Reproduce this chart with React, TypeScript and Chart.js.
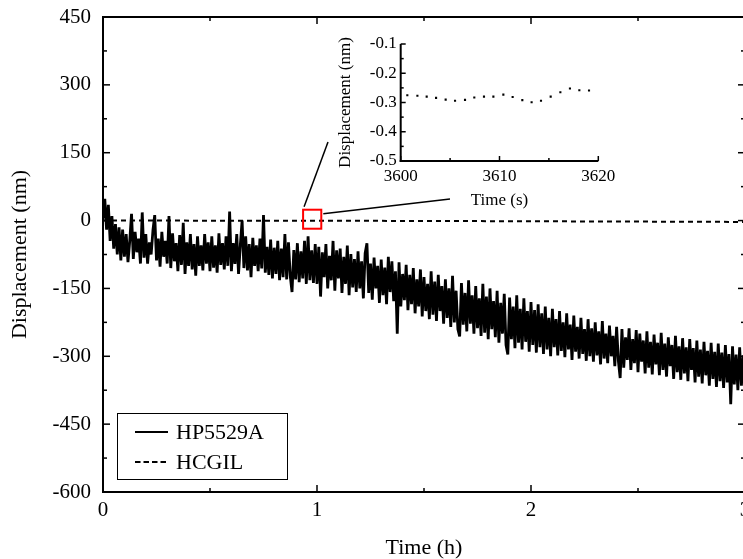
import React, { useEffect, useRef } from 'react';
import { Chart, registerables } from 'chart.js';
Chart.register(...registerables);

const SERIF = "'Liberation Serif', 'Times New Roman', Times, serif";

// HP5529A displacement (nm), one sample every 1/120 h
const hoursPerSample = 1 / 120;
const hpHour1 = [
  5, 48, -20, 35, -45, 10, -62, -8, -75, -15, -88, -20,
  -80, -30, -92, -45, 15, -85, -25, -70, -40, -95, 18, -82,
  -30, -95, -48, -75, -22, 12, -88, -40, -102, -25, -80, -45,
  -95, 10, -105, -28, -90, -50, -112, -32, -98, -5, -118, -48,
  -100, -30, -108, -52, -122, -35, -100, -55, -110, -30, -95, -48,
  -112, -35, -104, -55, -115, -28, -98, -50, -108, -35, -100, 20,
  -112, -50, -96, -30, -118, -55, 0, -105, -35, -110, -52, -125,
  -38, -100, -55, -112, -40, -106, 12, -115, -58, -120, -42, -128,
  -60, -118, -45, -132, -62, -125, -30, -130, -48, -122, -158, -65,
  -130, -50, -136, -68, -128, -45, -140, -35, -132, -66, -138, -52,
];
const hpHour2 = [
  -140, -58, -168, -70, -125, -52, -150, -78, -132, -45, -155, -66,
  -128, -62, -160, -80, -140, -55, -165, -74, -148, -85, -158, -68,
  -150, -90, -172, -72, -50, -160, -95, -175, -82, -150, -100, -182,
  -86, -165, -104, -185, -80, -158, -90, -178, -112, -250, -92, -190,
  -118, -176, -98, -198, -120, -185, -105, -205, -130, -190, -108, -212,
  -125, -200, -140, -218, -112, -208, -135, -222, -120, -200, -145, -228,
  -130, -215, -150, -235, -122, -225, -155, -240, -256, -138, -230, -160,
  -245, -132, -228, -165, -250, -145, -238, -172, -255, -140, -248, -168,
  -262, -150, -240, -178, -258, -155, -270, -182, -250, -162, -275, -296,
  -170, -262, -190, -282, -165, -270, -195, -285, -172, -268, -200, -290,
];
const hpHour3 = [
  -180, -275, -198, -292, -185, -280, -205, -295, -190, -285, -215, -300,
  -195, -280, -218, -298, -200, -288, -225, -302, -205, -285, -230, -308,
  -210, -290, -235, -305, -215, -295, -240, -310, -218, -300, -238, -312,
  -225, -298, -245, -318, -222, -305, -250, -315, -232, -300, -255, -322,
  -235, -310, -348, -240, -325, -258, -308, -238, -330, -262, -315, -242,
  -335, -250, -312, -265, -338, -245, -325, -268, -340, -252, -318, -270,
  -342, -248, -330, -272, -345, -258, -322, -275, -350, -255, -335, -278,
  -352, -260, -338, -280, -355, -262, -330, -282, -358, -265, -345, -285,
  -360, -268, -342, -288, -365, -270, -350, -290, -368, -272, -355, -292,
  -370, -275, -358, -295, -406, -278, -362, -296, -375, -280, -365, -298,
];
const hpEnd = [-340];

// HCGIL displacement (nm)
const hcgilTime = [0, 1, 2, 3];
const hcgilValues = [0, -0.3, -1.5, -3];

const mainXTicks = [0, 1, 2, 3];
const mainYTicks = [-600, -450, -300, -150, 0, 150, 300, 450];
const seriesNames = ['HP5529A', 'HCGIL'];

// zoom window around t = 1 h (h, nm)
const zoomWindow = { x0: 0.935, x1: 1.02, y0: -18, y1: 24 };

// inset: HCGIL detail
const insetTime = [3600.67, 3601.69, 3602.63, 3603.58, 3604.55, 3605.5, 3606.51, 3607.45, 3608.43, 3609.38,
  3610.39, 3611.33, 3612.31, 3613.25, 3614.2, 3615.18, 3616.16, 3617.13, 3618.08, 3619.06];
const insetValues = [-0.275, -0.277, -0.28, -0.284, -0.29, -0.294, -0.291, -0.283, -0.28, -0.28,
  -0.273, -0.281, -0.292, -0.299, -0.294, -0.28, -0.265, -0.252, -0.258, -0.259];
const insetXTicks = [3600, 3610, 3620];
const insetYTicks = [-0.5, -0.4, -0.3, -0.2, -0.1];

function seg(ctx: CanvasRenderingContext2D, x1: number, y1: number, x2: number, y2: number) {
  ctx.beginPath();
  ctx.moveTo(x1, y1);
  ctx.lineTo(x2, y2);
  ctx.stroke();
}

const noPadV = (s: any) => { s.paddingTop = 0; s.paddingBottom = 0; };
const noPadH = (s: any) => { s.paddingLeft = 0; s.paddingRight = 0; };

export default function App() {
  const mainRef = useRef<HTMLCanvasElement>(null);
  const insetRef = useRef<HTMLCanvasElement>(null);

  useEffect(() => {
    const hpValues = [...hpHour1, ...hpHour2, ...hpHour3, ...hpEnd];
    const hpData = hpValues.map((y, i) => ({ x: i * hoursPerSample, y }));
    const hcData = hcgilTime.map((x, i) => ({ x, y: hcgilValues[i] }));

    const mainAxes = {
      id: 'mainAxes',
      afterDatasetsDraw(chart: any) {
        const { ctx, chartArea: a, scales } = chart;
        const xs = scales.x, ys = scales.y;
        ctx.save();
        ctx.strokeStyle = '#000';
        ctx.lineWidth = 2;
        ctx.setLineDash([]);
        ctx.strokeRect(a.left, a.top, a.right - a.left, a.bottom - a.top);
        ctx.lineWidth = 1.5;
        for (let v = -600; v <= 450; v += 75) {
          const y = ys.getPixelForValue(v);
          const len = v % 150 === 0 ? 7 : 4;
          seg(ctx, a.left, y, a.left + len, y);
          seg(ctx, a.right, y, a.right - len, y);
        }
        for (let h = 0; h <= 3; h += 0.5) {
          const x = xs.getPixelForValue(h);
          const len = h % 1 === 0 ? 7 : 4;
          seg(ctx, x, a.bottom, x, a.bottom - len);
          seg(ctx, x, a.top, x, a.top + len);
        }
        // zoom box
        const bx0 = xs.getPixelForValue(zoomWindow.x0);
        const bx1 = xs.getPixelForValue(zoomWindow.x1);
        const by0 = ys.getPixelForValue(zoomWindow.y1);
        const by1 = ys.getPixelForValue(zoomWindow.y0);
        ctx.strokeStyle = '#ff0000';
        ctx.lineWidth = 2;
        ctx.strokeRect(bx0, by0, bx1 - bx0, by1 - by0);
        // leader lines
        ctx.strokeStyle = '#000';
        ctx.lineWidth = 1.5;
        seg(ctx, bx0 + 1, by0 - 3, 328, 142);
        seg(ctx, bx1 + 2, by0 + 4, 450, 199);
        // legend
        ctx.lineWidth = 1;
        ctx.strokeRect(117.5, 413.5, 170, 66);
        ctx.lineWidth = 2;
        seg(ctx, 135, 432, 168, 432);
        ctx.setLineDash([5.5, 3]);
        seg(ctx, 135, 462, 168, 462);
        ctx.setLineDash([]);
        ctx.fillStyle = '#000';
        ctx.font = `22px ${SERIF}`;
        ctx.textBaseline = 'middle';
        ctx.textAlign = 'left';
        ctx.fillText(seriesNames[0], 176, 433);
        ctx.fillText(seriesNames[1], 176, 463);
        ctx.restore();
      },
    };

    const tickFont = { family: SERIF, size: 21 };
    const titleFont = { family: SERIF, size: 22, lineHeight: 1 };

    const main = new Chart(mainRef.current!, {
      type: 'line',
      data: {
        datasets: [
          { label: seriesNames[1], data: hcData, borderColor: '#000', borderWidth: 2, borderDash: [5, 4], pointRadius: 0, fill: false },
          { label: seriesNames[0], data: hpData, borderColor: '#000', borderWidth: 2.8, borderJoinStyle: 'bevel', pointRadius: 0, fill: false },
        ],
      },
      options: {
        responsive: false,
        animation: false,
        devicePixelRatio: 1,
        events: [],
        layout: { padding: { left: 0, top: 17, right: 15, bottom: 0 } },
        plugins: { legend: { display: false }, tooltip: { enabled: false } },
        scales: {
          x: {
            type: 'linear', min: 0, max: 3,
            afterBuildTicks: (s: any) => { s.ticks = mainXTicks.map((value) => ({ value })); },
            grid: { display: false, drawTicks: false, tickLength: 0 },
            border: { display: false },
            ticks: { font: tickFont, color: '#000', padding: 6, maxRotation: 0, autoSkip: false, callback: (v: any) => String(v) },
            title: { display: true, text: 'Time (h)', font: titleFont, color: '#000', padding: { top: 0, bottom: 0 } },
            afterFit: (s: any) => { s.height = 67; noPadH(s); },
          },
          y: {
            type: 'linear', min: -600, max: 450,
            afterBuildTicks: (s: any) => { s.ticks = mainYTicks.map((value) => ({ value })); },
            grid: { display: false, drawTicks: false, tickLength: 0 },
            border: { display: false },
            ticks: { font: tickFont, color: '#000', padding: 12, autoSkip: false, callback: (v: any) => String(v) },
            title: { display: true, text: 'Displacement (nm)', font: titleFont, color: '#000', padding: { top: 9, bottom: 0 } },
            afterFit: (s: any) => { s.width = 103; noPadV(s); },
          },
        },
      } as any,
      plugins: [mainAxes],
    });

    const insetAxes = {
      id: 'insetAxes',
      afterDatasetsDraw(chart: any) {
        const { ctx, chartArea: a, scales } = chart;
        const xs = scales.x, ys = scales.y;
        ctx.save();
        ctx.strokeStyle = '#000';
        ctx.lineWidth = 2;
        seg(ctx, a.left, a.top, a.left, a.bottom + 1);
        seg(ctx, a.left - 1, a.bottom, a.right, a.bottom);
        ctx.lineWidth = 1.5;
        for (let k = 0; k <= 8; k++) {
          const v = -0.5 + k * 0.05;
          const y = ys.getPixelForValue(v);
          seg(ctx, a.left, y, a.left + (k % 2 === 0 ? 5 : 3), y);
        }
        for (let t = 3600; t <= 3620; t += 5) {
          const x = xs.getPixelForValue(t);
          seg(ctx, x, a.bottom, x, a.bottom - ((t - 3600) % 10 === 0 ? 5 : 3));
        }
        ctx.restore();
      },
    };

    const insetTickFont = { family: SERIF, size: 17 };
    const insetTitleFont = { family: SERIF, size: 17, lineHeight: 1 };

    const inset = new Chart(insetRef.current!, {
      type: 'line',
      data: {
        datasets: [
          {
            label: seriesNames[1],
            data: insetTime.map((x, i) => ({ x, y: insetValues[i] })),
            showLine: false, pointStyle: 'rect', pointRadius: 1.5,
            pointBackgroundColor: '#000', pointBorderWidth: 0, borderColor: '#000',
          },
        ],
      },
      options: {
        responsive: false,
        animation: false,
        devicePixelRatio: 1,
        events: [],
        layout: { padding: { left: 0, top: 14, right: 31.7, bottom: 0 } },
        plugins: { legend: { display: false }, tooltip: { enabled: false } },
        scales: {
          x: {
            type: 'linear', min: 3600, max: 3620,
            afterBuildTicks: (s: any) => { s.ticks = insetXTicks.map((value) => ({ value })); },
            grid: { display: false, drawTicks: false, tickLength: 0 },
            border: { display: false },
            ticks: { font: insetTickFont, color: '#000', padding: 5, maxRotation: 0, autoSkip: false, callback: (v: any) => String(v) },
            title: { display: true, text: 'Time (s)', font: insetTitleFont, color: '#000', padding: { top: 0, bottom: 10.5 } },
            afterFit: (s: any) => { s.height = 59; noPadH(s); },
          },
          y: {
            type: 'linear', min: -0.5, max: -0.1,
            afterBuildTicks: (s: any) => { s.ticks = insetYTicks.map((value) => ({ value })); },
            grid: { display: false, drawTicks: false, tickLength: 0 },
            border: { display: false },
            ticks: { font: insetTickFont, color: '#000', padding: 4, autoSkip: false, callback: (v: any) => Number(v).toFixed(1) },
            title: { display: true, text: 'Displacement (nm)', font: insetTitleFont, color: '#000', padding: { top: 7.5, bottom: 0 } },
            afterFit: (s: any) => { s.width = 70.7; noPadV(s); },
          },
        },
      } as any,
      plugins: [insetAxes],
    });

    return () => {
      main.destroy();
      inset.destroy();
    };
  }, []);

  return (
    <div style={{ position: 'fixed', left: 0, top: 0, width: 743, height: 559, overflow: 'hidden', background: '#fff' }}>
      <canvas ref={mainRef} width={760} height={559} style={{ position: 'absolute', left: 0, top: 0, width: 760, height: 559 }} />
      <canvas ref={insetRef} width={300} height={190} style={{ position: 'absolute', left: 330, top: 30, width: 300, height: 190 }} />
    </div>
  );
}
